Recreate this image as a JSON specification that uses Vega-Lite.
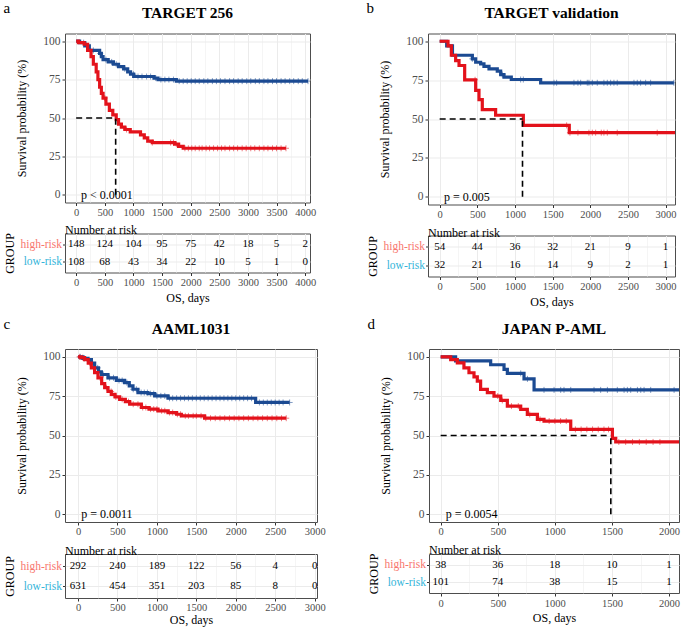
{
"$schema": "https://vega.github.io/schema/vega-lite/v6.json",
"background": "white",
"padding": {"left": 3, "top": 0.5, "right": 5, "bottom": 3},
"config": {
  "font": "Liberation Serif",
  "view": {"stroke": "#4D4D4D", "strokeWidth": 1},
  "axis": {"domain": false, "labelFont": "Liberation Serif", "titleFont": "Liberation Serif", "labelColor": "#4D4D4D", "tickColor": "#333333", "tickSize": 3, "gridColor": "#EBEBEB", "titleFontWeight": "normal", "titleColor": "black", "titleFontSize": 12, "labelFontSize": 11, "labelOverlap": false},
  "title": {"font": "Liberation Serif", "color": "black"},
  "text": {"font": "Liberation Serif"}
},
"datasets": {
  "km": [
    {"p":"a","g":"low-risk","t":0,"s":100},{"p":"a","g":"low-risk","t":60,"s":99},{"p":"a","g":"low-risk","t":150,"s":97},{"p":"a","g":"low-risk","t":230,"s":94},{"p":"a","g":"low-risk","t":410,"s":92},{"p":"a","g":"low-risk","t":440,"s":90},{"p":"a","g":"low-risk","t":470,"s":88},{"p":"a","g":"low-risk","t":560,"s":86.5},{"p":"a","g":"low-risk","t":650,"s":85},{"p":"a","g":"low-risk","t":740,"s":83.5},{"p":"a","g":"low-risk","t":830,"s":82},{"p":"a","g":"low-risk","t":900,"s":80},{"p":"a","g":"low-risk","t":950,"s":78.5},{"p":"a","g":"low-risk","t":1005,"s":77},{"p":"a","g":"low-risk","t":1360,"s":76},{"p":"a","g":"low-risk","t":1430,"s":75},{"p":"a","g":"low-risk","t":1750,"s":74},{"p":"a","g":"low-risk","t":4050,"s":74},
    {"p":"a","g":"high-risk","t":0,"s":100},{"p":"a","g":"high-risk","t":40,"s":99},{"p":"a","g":"high-risk","t":140,"s":98},{"p":"a","g":"high-risk","t":200,"s":94},{"p":"a","g":"high-risk","t":260,"s":90},{"p":"a","g":"high-risk","t":300,"s":85},{"p":"a","g":"high-risk","t":350,"s":80},{"p":"a","g":"high-risk","t":380,"s":75},{"p":"a","g":"high-risk","t":410,"s":70},{"p":"a","g":"high-risk","t":440,"s":66},{"p":"a","g":"high-risk","t":470,"s":63},{"p":"a","g":"high-risk","t":520,"s":59},{"p":"a","g":"high-risk","t":580,"s":55},{"p":"a","g":"high-risk","t":640,"s":52},{"p":"a","g":"high-risk","t":700,"s":49},{"p":"a","g":"high-risk","t":740,"s":46},{"p":"a","g":"high-risk","t":790,"s":44},{"p":"a","g":"high-risk","t":850,"s":42.5},{"p":"a","g":"high-risk","t":945,"s":41},{"p":"a","g":"high-risk","t":1124,"s":39},{"p":"a","g":"high-risk","t":1190,"s":37},{"p":"a","g":"high-risk","t":1250,"s":35},{"p":"a","g":"high-risk","t":1330,"s":34},{"p":"a","g":"high-risk","t":1720,"s":33},{"p":"a","g":"high-risk","t":1790,"s":31.5},{"p":"a","g":"high-risk","t":1870,"s":30.3},{"p":"a","g":"high-risk","t":3665,"s":30.3},
    {"p":"b","g":"low-risk","t":0,"s":100},{"p":"b","g":"low-risk","t":93,"s":97},{"p":"b","g":"low-risk","t":170,"s":91},{"p":"b","g":"low-risk","t":434,"s":88.7},{"p":"b","g":"low-risk","t":478,"s":86.5},{"p":"b","g":"low-risk","t":544,"s":85.5},{"p":"b","g":"low-risk","t":588,"s":83.8},{"p":"b","g":"low-risk","t":655,"s":82.3},{"p":"b","g":"low-risk","t":765,"s":80.8},{"p":"b","g":"low-risk","t":810,"s":78.6},{"p":"b","g":"low-risk","t":854,"s":76.9},{"p":"b","g":"low-risk","t":951,"s":75.4},{"p":"b","g":"low-risk","t":1341,"s":73.3},{"p":"b","g":"low-risk","t":3110,"s":73.3},
    {"p":"b","g":"high-risk","t":0,"s":100},{"p":"b","g":"high-risk","t":111,"s":97},{"p":"b","g":"high-risk","t":155,"s":91},{"p":"b","g":"high-risk","t":212,"s":87.6},{"p":"b","g":"high-risk","t":257,"s":84.4},{"p":"b","g":"high-risk","t":332,"s":75.2},{"p":"b","g":"high-risk","t":478,"s":68.4},{"p":"b","g":"high-risk","t":522,"s":62.4},{"p":"b","g":"high-risk","t":566,"s":56},{"p":"b","g":"high-risk","t":743,"s":52.4},{"p":"b","g":"high-risk","t":1111,"s":45.9},{"p":"b","g":"high-risk","t":1721,"s":41.2},{"p":"b","g":"high-risk","t":3128,"s":41.2},
    {"p":"c","g":"low-risk","t":0,"s":100},{"p":"c","g":"low-risk","t":60,"s":99},{"p":"c","g":"low-risk","t":127,"s":98.3},{"p":"c","g":"low-risk","t":170,"s":96},{"p":"c","g":"low-risk","t":211,"s":93},{"p":"c","g":"low-risk","t":260,"s":90.5},{"p":"c","g":"low-risk","t":296,"s":88.8},{"p":"c","g":"low-risk","t":380,"s":86.7},{"p":"c","g":"low-risk","t":486,"s":85},{"p":"c","g":"low-risk","t":591,"s":83.6},{"p":"c","g":"low-risk","t":650,"s":81.5},{"p":"c","g":"low-risk","t":697,"s":79.4},{"p":"c","g":"low-risk","t":760,"s":77.3},{"p":"c","g":"low-risk","t":887,"s":76.6},{"p":"c","g":"low-risk","t":972,"s":75.2},{"p":"c","g":"low-risk","t":1141,"s":73.7},{"p":"c","g":"low-risk","t":2252,"s":71},{"p":"c","g":"low-risk","t":2683,"s":71},
    {"p":"c","g":"high-risk","t":0,"s":100},{"p":"c","g":"high-risk","t":40,"s":99.5},{"p":"c","g":"high-risk","t":84,"s":98.3},{"p":"c","g":"high-risk","t":130,"s":96},{"p":"c","g":"high-risk","t":169,"s":93},{"p":"c","g":"high-risk","t":210,"s":90},{"p":"c","g":"high-risk","t":253,"s":86.7},{"p":"c","g":"high-risk","t":300,"s":83},{"p":"c","g":"high-risk","t":338,"s":80.4},{"p":"c","g":"high-risk","t":380,"s":78},{"p":"c","g":"high-risk","t":422,"s":76.2},{"p":"c","g":"high-risk","t":470,"s":74.5},{"p":"c","g":"high-risk","t":528,"s":73},{"p":"c","g":"high-risk","t":600,"s":71.5},{"p":"c","g":"high-risk","t":655,"s":69.9},{"p":"c","g":"high-risk","t":803,"s":67.8},{"p":"c","g":"high-risk","t":900,"s":66.8},{"p":"c","g":"high-risk","t":1014,"s":65.7},{"p":"c","g":"high-risk","t":1141,"s":64.6},{"p":"c","g":"high-risk","t":1250,"s":63.5},{"p":"c","g":"high-risk","t":1310,"s":62.5},{"p":"c","g":"high-risk","t":1605,"s":61},{"p":"c","g":"high-risk","t":2640,"s":61},
    {"p":"d","g":"low-risk","t":0,"s":100},{"p":"d","g":"low-risk","t":131,"s":97.5},{"p":"d","g":"low-risk","t":438,"s":95},{"p":"d","g":"low-risk","t":555,"s":92},{"p":"d","g":"low-risk","t":584,"s":89.5},{"p":"d","g":"low-risk","t":730,"s":86},{"p":"d","g":"low-risk","t":818,"s":79},{"p":"d","g":"low-risk","t":2100,"s":79},
    {"p":"d","g":"high-risk","t":0,"s":100},{"p":"d","g":"high-risk","t":88,"s":98.3},{"p":"d","g":"high-risk","t":146,"s":96.2},{"p":"d","g":"high-risk","t":204,"s":93},{"p":"d","g":"high-risk","t":248,"s":89.9},{"p":"d","g":"high-risk","t":292,"s":87.3},{"p":"d","g":"high-risk","t":321,"s":84.6},{"p":"d","g":"high-risk","t":350,"s":79.3},{"p":"d","g":"high-risk","t":409,"s":77.2},{"p":"d","g":"high-risk","t":467,"s":75.1},{"p":"d","g":"high-risk","t":526,"s":72.3},{"p":"d","g":"high-risk","t":584,"s":68.7},{"p":"d","g":"high-risk","t":701,"s":66.6},{"p":"d","g":"high-risk","t":759,"s":63.4},{"p":"d","g":"high-risk","t":847,"s":60.3},{"p":"d","g":"high-risk","t":905,"s":59.2},{"p":"d","g":"high-risk","t":1139,"s":53.9},{"p":"d","g":"high-risk","t":1504,"s":48.2},{"p":"d","g":"high-risk","t":1533,"s":45.9},{"p":"d","g":"high-risk","t":2100,"s":45.9}
  ],
  "cens": [
    {"p":"a","g":"low-risk","t":130,"s":99},{"p":"a","g":"low-risk","t":300,"s":94},{"p":"a","g":"low-risk","t":420,"s":92},{"p":"a","g":"low-risk","t":520,"s":88},{"p":"a","g":"low-risk","t":620,"s":86.5},{"p":"a","g":"low-risk","t":700,"s":85},{"p":"a","g":"low-risk","t":850,"s":82},{"p":"a","g":"low-risk","t":1000,"s":78.5},{"p":"a","g":"low-risk","t":1080,"s":77},{"p":"a","g":"low-risk","t":1150,"s":77},{"p":"a","g":"low-risk","t":1230,"s":77},{"p":"a","g":"low-risk","t":1300,"s":77},{"p":"a","g":"low-risk","t":1390,"s":76},{"p":"a","g":"low-risk","t":1480,"s":75},{"p":"a","g":"low-risk","t":1550,"s":75},{"p":"a","g":"low-risk","t":1620,"s":75},{"p":"a","g":"low-risk","t":1700,"s":75},{"p":"a","g":"low-risk","t":1800,"s":74},{"p":"a","g":"low-risk","t":1870,"s":74},{"p":"a","g":"low-risk","t":1940,"s":74},{"p":"a","g":"low-risk","t":2010,"s":74},{"p":"a","g":"low-risk","t":2080,"s":74},{"p":"a","g":"low-risk","t":2150,"s":74},{"p":"a","g":"low-risk","t":2230,"s":74},{"p":"a","g":"low-risk","t":2300,"s":74},{"p":"a","g":"low-risk","t":2380,"s":74},{"p":"a","g":"low-risk","t":2450,"s":74},{"p":"a","g":"low-risk","t":2520,"s":74},{"p":"a","g":"low-risk","t":2600,"s":74},{"p":"a","g":"low-risk","t":2680,"s":74},{"p":"a","g":"low-risk","t":2750,"s":74},{"p":"a","g":"low-risk","t":2830,"s":74},{"p":"a","g":"low-risk","t":2900,"s":74},{"p":"a","g":"low-risk","t":2980,"s":74},{"p":"a","g":"low-risk","t":3050,"s":74},{"p":"a","g":"low-risk","t":3130,"s":74},{"p":"a","g":"low-risk","t":3200,"s":74},{"p":"a","g":"low-risk","t":3280,"s":74},{"p":"a","g":"low-risk","t":3350,"s":74},{"p":"a","g":"low-risk","t":3430,"s":74},{"p":"a","g":"low-risk","t":3500,"s":74},{"p":"a","g":"low-risk","t":3580,"s":74},{"p":"a","g":"low-risk","t":3650,"s":74},{"p":"a","g":"low-risk","t":3730,"s":74},{"p":"a","g":"low-risk","t":3800,"s":74},{"p":"a","g":"low-risk","t":3880,"s":74},{"p":"a","g":"low-risk","t":3950,"s":74},{"p":"a","g":"low-risk","t":4050,"s":74},
    {"p":"a","g":"high-risk","t":500,"s":63},{"p":"a","g":"high-risk","t":880,"s":42.5},{"p":"a","g":"high-risk","t":1330,"s":34},{"p":"a","g":"high-risk","t":1650,"s":34},{"p":"a","g":"high-risk","t":1700,"s":34},{"p":"a","g":"high-risk","t":1750,"s":33},{"p":"a","g":"high-risk","t":1900,"s":30.3},{"p":"a","g":"high-risk","t":1960,"s":30.3},{"p":"a","g":"high-risk","t":2020,"s":30.3},{"p":"a","g":"high-risk","t":2080,"s":30.3},{"p":"a","g":"high-risk","t":2150,"s":30.3},{"p":"a","g":"high-risk","t":2200,"s":30.3},{"p":"a","g":"high-risk","t":2270,"s":30.3},{"p":"a","g":"high-risk","t":2330,"s":30.3},{"p":"a","g":"high-risk","t":2400,"s":30.3},{"p":"a","g":"high-risk","t":2470,"s":30.3},{"p":"a","g":"high-risk","t":2540,"s":30.3},{"p":"a","g":"high-risk","t":2600,"s":30.3},{"p":"a","g":"high-risk","t":2680,"s":30.3},{"p":"a","g":"high-risk","t":2750,"s":30.3},{"p":"a","g":"high-risk","t":2820,"s":30.3},{"p":"a","g":"high-risk","t":2900,"s":30.3},{"p":"a","g":"high-risk","t":2970,"s":30.3},{"p":"a","g":"high-risk","t":3050,"s":30.3},{"p":"a","g":"high-risk","t":3120,"s":30.3},{"p":"a","g":"high-risk","t":3200,"s":30.3},{"p":"a","g":"high-risk","t":3280,"s":30.3},{"p":"a","g":"high-risk","t":3350,"s":30.3},{"p":"a","g":"high-risk","t":3430,"s":30.3},{"p":"a","g":"high-risk","t":3500,"s":30.3},{"p":"a","g":"high-risk","t":3580,"s":30.3},{"p":"a","g":"high-risk","t":3665,"s":30.3},
    {"p":"b","g":"low-risk","t":434,"s":88.7},{"p":"b","g":"low-risk","t":832,"s":78.6},{"p":"b","g":"low-risk","t":1075,"s":75.4},{"p":"b","g":"low-risk","t":1111,"s":75.4},{"p":"b","g":"low-risk","t":1518,"s":73.3},{"p":"b","g":"low-risk","t":1553,"s":73.3},{"p":"b","g":"low-risk","t":1783,"s":73.3},{"p":"b","g":"low-risk","t":1836,"s":73.3},{"p":"b","g":"low-risk","t":1872,"s":73.3},{"p":"b","g":"low-risk","t":1960,"s":73.3},{"p":"b","g":"low-risk","t":1982,"s":73.3},{"p":"b","g":"low-risk","t":2027,"s":73.3},{"p":"b","g":"low-risk","t":2093,"s":73.3},{"p":"b","g":"low-risk","t":2181,"s":73.3},{"p":"b","g":"low-risk","t":2226,"s":73.3},{"p":"b","g":"low-risk","t":2270,"s":73.3},{"p":"b","g":"low-risk","t":2314,"s":73.3},{"p":"b","g":"low-risk","t":2358,"s":73.3},{"p":"b","g":"low-risk","t":2580,"s":73.3},{"p":"b","g":"low-risk","t":2624,"s":73.3},{"p":"b","g":"low-risk","t":2668,"s":73.3},{"p":"b","g":"low-risk","t":2735,"s":73.3},{"p":"b","g":"low-risk","t":2801,"s":73.3},{"p":"b","g":"low-risk","t":3110,"s":73.3},
    {"p":"b","g":"high-risk","t":470,"s":75.2},{"p":"b","g":"high-risk","t":1686,"s":45.9},{"p":"b","g":"high-risk","t":1730,"s":41.2},{"p":"b","g":"high-risk","t":1836,"s":41.2},{"p":"b","g":"high-risk","t":1982,"s":41.2},{"p":"b","g":"high-risk","t":2027,"s":41.2},{"p":"b","g":"high-risk","t":2071,"s":41.2},{"p":"b","g":"high-risk","t":2146,"s":41.2},{"p":"b","g":"high-risk","t":2181,"s":41.2},{"p":"b","g":"high-risk","t":2226,"s":41.2},{"p":"b","g":"high-risk","t":2358,"s":41.2},{"p":"b","g":"high-risk","t":2889,"s":41.2},
    {"p":"c","g":"low-risk","t":30,"s":100},{"p":"c","g":"low-risk","t":80,"s":99},{"p":"c","g":"low-risk","t":250,"s":93},{"p":"c","g":"low-risk","t":320,"s":88.8},{"p":"c","g":"low-risk","t":400,"s":86.7},{"p":"c","g":"low-risk","t":450,"s":86.7},{"p":"c","g":"low-risk","t":520,"s":85},{"p":"c","g":"low-risk","t":560,"s":85},{"p":"c","g":"low-risk","t":620,"s":83.6},{"p":"c","g":"low-risk","t":700,"s":79.4},{"p":"c","g":"low-risk","t":740,"s":79.4},{"p":"c","g":"low-risk","t":800,"s":77.3},{"p":"c","g":"low-risk","t":840,"s":77.3},{"p":"c","g":"low-risk","t":880,"s":77.3},{"p":"c","g":"low-risk","t":920,"s":76.6},{"p":"c","g":"low-risk","t":960,"s":76.6},{"p":"c","g":"low-risk","t":1000,"s":75.2},{"p":"c","g":"low-risk","t":1050,"s":75.2},{"p":"c","g":"low-risk","t":1100,"s":75.2},{"p":"c","g":"low-risk","t":1160,"s":73.7},{"p":"c","g":"low-risk","t":1200,"s":73.7},{"p":"c","g":"low-risk","t":1250,"s":73.7},{"p":"c","g":"low-risk","t":1300,"s":73.7},{"p":"c","g":"low-risk","t":1350,"s":73.7},{"p":"c","g":"low-risk","t":1400,"s":73.7},{"p":"c","g":"low-risk","t":1450,"s":73.7},{"p":"c","g":"low-risk","t":1500,"s":73.7},{"p":"c","g":"low-risk","t":1550,"s":73.7},{"p":"c","g":"low-risk","t":1600,"s":73.7},{"p":"c","g":"low-risk","t":1650,"s":73.7},{"p":"c","g":"low-risk","t":1700,"s":73.7},{"p":"c","g":"low-risk","t":1750,"s":73.7},{"p":"c","g":"low-risk","t":1800,"s":73.7},{"p":"c","g":"low-risk","t":1850,"s":73.7},{"p":"c","g":"low-risk","t":1900,"s":73.7},{"p":"c","g":"low-risk","t":1950,"s":73.7},{"p":"c","g":"low-risk","t":2000,"s":73.7},{"p":"c","g":"low-risk","t":2050,"s":73.7},{"p":"c","g":"low-risk","t":2100,"s":73.7},{"p":"c","g":"low-risk","t":2150,"s":73.7},{"p":"c","g":"low-risk","t":2200,"s":73.7},{"p":"c","g":"low-risk","t":2300,"s":71},{"p":"c","g":"low-risk","t":2350,"s":71},{"p":"c","g":"low-risk","t":2400,"s":71},{"p":"c","g":"low-risk","t":2450,"s":71},{"p":"c","g":"low-risk","t":2500,"s":71},{"p":"c","g":"low-risk","t":2550,"s":71},{"p":"c","g":"low-risk","t":2600,"s":71},{"p":"c","g":"low-risk","t":2683,"s":71},
    {"p":"c","g":"high-risk","t":20,"s":100},{"p":"c","g":"high-risk","t":60,"s":99.5},{"p":"c","g":"high-risk","t":150,"s":96},{"p":"c","g":"high-risk","t":280,"s":86.7},{"p":"c","g":"high-risk","t":360,"s":80.4},{"p":"c","g":"high-risk","t":420,"s":78},{"p":"c","g":"high-risk","t":480,"s":74.5},{"p":"c","g":"high-risk","t":560,"s":73},{"p":"c","g":"high-risk","t":640,"s":71.5},{"p":"c","g":"high-risk","t":700,"s":69.9},{"p":"c","g":"high-risk","t":760,"s":69.9},{"p":"c","g":"high-risk","t":820,"s":67.8},{"p":"c","g":"high-risk","t":860,"s":67.8},{"p":"c","g":"high-risk","t":920,"s":66.8},{"p":"c","g":"high-risk","t":960,"s":66.8},{"p":"c","g":"high-risk","t":1000,"s":66.8},{"p":"c","g":"high-risk","t":1060,"s":65.7},{"p":"c","g":"high-risk","t":1100,"s":65.7},{"p":"c","g":"high-risk","t":1160,"s":64.6},{"p":"c","g":"high-risk","t":1200,"s":64.6},{"p":"c","g":"high-risk","t":1260,"s":63.5},{"p":"c","g":"high-risk","t":1300,"s":63.5},{"p":"c","g":"high-risk","t":1360,"s":62.5},{"p":"c","g":"high-risk","t":1400,"s":62.5},{"p":"c","g":"high-risk","t":1460,"s":62.5},{"p":"c","g":"high-risk","t":1500,"s":62.5},{"p":"c","g":"high-risk","t":1560,"s":62.5},{"p":"c","g":"high-risk","t":1620,"s":61},{"p":"c","g":"high-risk","t":1680,"s":61},{"p":"c","g":"high-risk","t":1740,"s":61},{"p":"c","g":"high-risk","t":1800,"s":61},{"p":"c","g":"high-risk","t":1860,"s":61},{"p":"c","g":"high-risk","t":1920,"s":61},{"p":"c","g":"high-risk","t":1980,"s":61},{"p":"c","g":"high-risk","t":2040,"s":61},{"p":"c","g":"high-risk","t":2100,"s":61},{"p":"c","g":"high-risk","t":2160,"s":61},{"p":"c","g":"high-risk","t":2220,"s":61},{"p":"c","g":"high-risk","t":2280,"s":61},{"p":"c","g":"high-risk","t":2340,"s":61},{"p":"c","g":"high-risk","t":2400,"s":61},{"p":"c","g":"high-risk","t":2460,"s":61},{"p":"c","g":"high-risk","t":2520,"s":61},{"p":"c","g":"high-risk","t":2580,"s":61},{"p":"c","g":"high-risk","t":2640,"s":61},
    {"p":"d","g":"low-risk","t":701,"s":89.5},{"p":"d","g":"low-risk","t":760,"s":86},{"p":"d","g":"low-risk","t":905,"s":79},{"p":"d","g":"low-risk","t":993,"s":79},{"p":"d","g":"low-risk","t":1051,"s":79},{"p":"d","g":"low-risk","t":1080,"s":79},{"p":"d","g":"low-risk","t":1139,"s":79},{"p":"d","g":"low-risk","t":1343,"s":79},{"p":"d","g":"low-risk","t":1401,"s":79},{"p":"d","g":"low-risk","t":1460,"s":79},{"p":"d","g":"low-risk","t":1547,"s":79},{"p":"d","g":"low-risk","t":1606,"s":79},{"p":"d","g":"low-risk","t":1635,"s":79},{"p":"d","g":"low-risk","t":1664,"s":79},{"p":"d","g":"low-risk","t":1723,"s":79},{"p":"d","g":"low-risk","t":1752,"s":79},{"p":"d","g":"low-risk","t":1781,"s":79},{"p":"d","g":"low-risk","t":1839,"s":79},{"p":"d","g":"low-risk","t":2044,"s":79},
    {"p":"d","g":"high-risk","t":500,"s":75.1},{"p":"d","g":"high-risk","t":540,"s":72.3},{"p":"d","g":"high-risk","t":620,"s":68.7},{"p":"d","g":"high-risk","t":680,"s":68.7},{"p":"d","g":"high-risk","t":780,"s":63.4},{"p":"d","g":"high-risk","t":870,"s":60.3},{"p":"d","g":"high-risk","t":950,"s":59.2},{"p":"d","g":"high-risk","t":1000,"s":59.2},{"p":"d","g":"high-risk","t":1050,"s":59.2},{"p":"d","g":"high-risk","t":1100,"s":59.2},{"p":"d","g":"high-risk","t":1180,"s":53.9},{"p":"d","g":"high-risk","t":1230,"s":53.9},{"p":"d","g":"high-risk","t":1280,"s":53.9},{"p":"d","g":"high-risk","t":1330,"s":53.9},{"p":"d","g":"high-risk","t":1380,"s":53.9},{"p":"d","g":"high-risk","t":1430,"s":53.9},{"p":"d","g":"high-risk","t":1470,"s":53.9},{"p":"d","g":"high-risk","t":1560,"s":45.9},{"p":"d","g":"high-risk","t":1620,"s":45.9},{"p":"d","g":"high-risk","t":1680,"s":45.9},{"p":"d","g":"high-risk","t":1740,"s":45.9},{"p":"d","g":"high-risk","t":1800,"s":45.9},{"p":"d","g":"high-risk","t":1860,"s":45.9},{"p":"d","g":"high-risk","t":1920,"s":45.9}
  ],
  "risk": [
    {"p":"a","g":"high-risk","t":0,"n":148},{"p":"a","g":"high-risk","t":500,"n":124},{"p":"a","g":"high-risk","t":1000,"n":104},{"p":"a","g":"high-risk","t":1500,"n":95},{"p":"a","g":"high-risk","t":2000,"n":75},{"p":"a","g":"high-risk","t":2500,"n":42},{"p":"a","g":"high-risk","t":3000,"n":18},{"p":"a","g":"high-risk","t":3500,"n":5},{"p":"a","g":"high-risk","t":4000,"n":2},
    {"p":"a","g":"low-risk","t":0,"n":108},{"p":"a","g":"low-risk","t":500,"n":68},{"p":"a","g":"low-risk","t":1000,"n":43},{"p":"a","g":"low-risk","t":1500,"n":34},{"p":"a","g":"low-risk","t":2000,"n":22},{"p":"a","g":"low-risk","t":2500,"n":10},{"p":"a","g":"low-risk","t":3000,"n":5},{"p":"a","g":"low-risk","t":3500,"n":1},{"p":"a","g":"low-risk","t":4000,"n":0},
    {"p":"b","g":"high-risk","t":0,"n":54},{"p":"b","g":"high-risk","t":500,"n":44},{"p":"b","g":"high-risk","t":1000,"n":36},{"p":"b","g":"high-risk","t":1500,"n":32},{"p":"b","g":"high-risk","t":2000,"n":21},{"p":"b","g":"high-risk","t":2500,"n":9},{"p":"b","g":"high-risk","t":3000,"n":1},
    {"p":"b","g":"low-risk","t":0,"n":32},{"p":"b","g":"low-risk","t":500,"n":21},{"p":"b","g":"low-risk","t":1000,"n":16},{"p":"b","g":"low-risk","t":1500,"n":14},{"p":"b","g":"low-risk","t":2000,"n":9},{"p":"b","g":"low-risk","t":2500,"n":2},{"p":"b","g":"low-risk","t":3000,"n":1},
    {"p":"c","g":"high-risk","t":0,"n":292},{"p":"c","g":"high-risk","t":500,"n":240},{"p":"c","g":"high-risk","t":1000,"n":189},{"p":"c","g":"high-risk","t":1500,"n":122},{"p":"c","g":"high-risk","t":2000,"n":56},{"p":"c","g":"high-risk","t":2500,"n":4},{"p":"c","g":"high-risk","t":3000,"n":0},
    {"p":"c","g":"low-risk","t":0,"n":631},{"p":"c","g":"low-risk","t":500,"n":454},{"p":"c","g":"low-risk","t":1000,"n":351},{"p":"c","g":"low-risk","t":1500,"n":203},{"p":"c","g":"low-risk","t":2000,"n":85},{"p":"c","g":"low-risk","t":2500,"n":8},{"p":"c","g":"low-risk","t":3000,"n":0},
    {"p":"d","g":"high-risk","t":0,"n":38},{"p":"d","g":"high-risk","t":500,"n":36},{"p":"d","g":"high-risk","t":1000,"n":18},{"p":"d","g":"high-risk","t":1500,"n":10},{"p":"d","g":"high-risk","t":2000,"n":1},
    {"p":"d","g":"low-risk","t":0,"n":101},{"p":"d","g":"low-risk","t":500,"n":74},{"p":"d","g":"low-risk","t":1000,"n":38},{"p":"d","g":"low-risk","t":1500,"n":15},{"p":"d","g":"low-risk","t":2000,"n":1}
  ],
  "med": [
    {"p":"a","t":690,"s":50,"t0":0,"s0":0},{"p":"b","t":1100,"s":50,"t0":0,"s0":0},{"p":"d","t":1490,"s":50,"t0":0,"s0":0}
  ],
  "pv": [
    {"p":"a","t":85,"s":0,"label":"p < 0.0001"},{"p":"b","t":57,"s":0,"label":"p = 0.005"},{"p":"c","t":40,"s":0,"label":"p = 0.0011"},{"p":"d","t":44,"s":0,"label":"p = 0.0054"}
  ]
},
"spacing": 8.5,
"vconcat": [
 {"hconcat": [
  {"title": {"text": "a", "anchor": "start", "frame": "bounds", "fontSize": 15, "fontWeight": "normal", "offset": -10.5},
   "spacing": 31, "bounds": "flush",
   "vconcat": [
    {"width": 245, "height": 169,
     "title": {"text": "TARGET 256", "fontSize": 15.5, "fontWeight": "bold", "anchor": "middle", "frame": "group", "offset": 12},
     "layer": [
      {"data": {"name": "cens"}, "transform": [{"filter": "datum.p === 'a'"}],
       "mark": {"type": "point", "shape": "M-1,0L1,0M0,-1L0,1", "filled": false, "size": 36, "strokeWidth": 1, "opacity": 0.55, "clip": true},
       "encoding": {
        "x": {"field": "t", "type": "quantitative", "scale": {"domain": [-195, 4085], "nice": false, "zero": false},
              "axis": {"title": null, "values": [0,250,500,750,1000,1250,1500,1750,2000,2250,2500,2750,3000,3250,3500,3750,4000], "format": "d", "labelExpr": "datum.value % 500 === 0 ? datum.label : ''", "tickOpacity": {"condition": {"test": "datum.value % 500 !== 0", "value": 0}, "value": 1}, "gridWidth": {"condition": {"test": "datum.value % 500 !== 0", "value": 0.5}, "value": 1}, "labelFontSize": 10.5, "labelPadding": 1.5, "labelOverlap": false, "labelFlush": false}},
        "y": {"field": "s", "type": "quantitative", "scale": {"domain": [-5, 105], "nice": false, "zero": false},
              "axis": {"title": "Survival probability (%)", "values": [0,12.5,25,37.5,50,62.5,75,87.5,100], "labelExpr": "datum.value % 25 === 0 ? datum.label : ''", "tickOpacity": {"condition": {"test": "datum.value % 25 !== 0", "value": 0}, "value": 1}, "gridWidth": {"condition": {"test": "datum.value % 25 !== 0", "value": 0.5}, "value": 1}, "labelFontSize": 11.5, "labelPadding": 2, "titlePadding": 14, "labelOverlap": false, "labelFlush": false}},
        "color": {"field": "g", "type": "nominal", "scale": {"domain": ["high-risk", "low-risk"], "range": ["#E3121B", "#1B4A92"]}, "legend": null}}},
      {"data": {"name": "km"}, "transform": [{"filter": "datum.p === 'a'"}],
       "mark": {"type": "line", "interpolate": "step-after", "strokeWidth": 3.2, "clip": true},
       "encoding": {"x": {"field": "t", "type": "quantitative", "axis": {"title": null, "values": [0,250,500,750,1000,1250,1500,1750,2000,2250,2500,2750,3000,3250,3500,3750,4000], "format": "d", "labelExpr": "datum.value % 500 === 0 ? datum.label : ''", "tickOpacity": {"condition": {"test": "datum.value % 500 !== 0", "value": 0}, "value": 1}, "gridWidth": {"condition": {"test": "datum.value % 500 !== 0", "value": 0.5}, "value": 1}, "labelFontSize": 10.5, "labelPadding": 1.5, "labelOverlap": false, "labelFlush": false}}, "y": {"field": "s", "type": "quantitative"}, "color": {"field": "g", "type": "nominal"}}},
      {"data": {"name": "med"}, "transform": [{"filter": "datum.p === 'a'"}],
       "mark": {"type": "rule", "strokeDash": [6, 4], "strokeWidth": 1.6, "color": "black"},
       "encoding": {"x": {"field": "t0", "type": "quantitative", "axis": {"title": null, "values": [0,250,500,750,1000,1250,1500,1750,2000,2250,2500,2750,3000,3250,3500,3750,4000], "format": "d", "labelExpr": "datum.value % 500 === 0 ? datum.label : ''", "tickOpacity": {"condition": {"test": "datum.value % 500 !== 0", "value": 0}, "value": 1}, "gridWidth": {"condition": {"test": "datum.value % 500 !== 0", "value": 0.5}, "value": 1}, "labelFontSize": 10.5, "labelPadding": 1.5, "labelOverlap": false, "labelFlush": false}}, "x2": {"field": "t"}, "y": {"field": "s", "type": "quantitative"}}},
      {"data": {"name": "med"}, "transform": [{"filter": "datum.p === 'a'"}],
       "mark": {"type": "rule", "strokeDash": [6, 4], "strokeWidth": 1.6, "color": "black"},
       "encoding": {"x": {"field": "t", "type": "quantitative", "axis": {"title": null, "values": [0,250,500,750,1000,1250,1500,1750,2000,2250,2500,2750,3000,3250,3500,3750,4000], "format": "d", "labelExpr": "datum.value % 500 === 0 ? datum.label : ''", "tickOpacity": {"condition": {"test": "datum.value % 500 !== 0", "value": 0}, "value": 1}, "gridWidth": {"condition": {"test": "datum.value % 500 !== 0", "value": 0.5}, "value": 1}, "labelFontSize": 10.5, "labelPadding": 1.5, "labelOverlap": false, "labelFlush": false}}, "y": {"field": "s0", "type": "quantitative"}, "y2": {"field": "s"}}},
      {"data": {"name": "pv"}, "transform": [{"filter": "datum.p === 'a'"}],
       "mark": {"type": "text", "align": "left", "baseline": "middle", "fontSize": 12, "color": "black"},
       "encoding": {"x": {"field": "t", "type": "quantitative", "axis": {"title": null, "values": [0,250,500,750,1000,1250,1500,1750,2000,2250,2500,2750,3000,3250,3500,3750,4000], "format": "d", "labelExpr": "datum.value % 500 === 0 ? datum.label : ''", "tickOpacity": {"condition": {"test": "datum.value % 500 !== 0", "value": 0}, "value": 1}, "gridWidth": {"condition": {"test": "datum.value % 500 !== 0", "value": 0.5}, "value": 1}, "labelFontSize": 10.5, "labelPadding": 1.5, "labelOverlap": false, "labelFlush": false}}, "y": {"field": "s", "type": "quantitative"}, "text": {"field": "label", "type": "nominal"}}}
     ]},
    {"width": 245, "height": 39,
     "title": {"text": "Number at risk", "anchor": "start", "frame": "group", "fontSize": 12, "fontWeight": "normal", "offset": -4},
     "data": {"name": "risk"}, "transform": [{"filter": "datum.p === 'a'"}],
     "mark": {"type": "text", "fontSize": 11, "color": "black", "baseline": "middle"},
     "encoding": {
      "x": {"field": "t", "type": "quantitative", "scale": {"domain": [-195, 4085], "nice": false, "zero": false},
            "axis": {"title": "OS, days", "titlePadding": 4, "values": [0,250,500,750,1000,1250,1500,1750,2000,2250,2500,2750,3000,3250,3500,3750,4000], "format": "d", "labelExpr": "datum.value % 500 === 0 ? datum.label : ''", "tickOpacity": {"condition": {"test": "datum.value % 500 !== 0", "value": 0}, "value": 1}, "gridWidth": {"condition": {"test": "datum.value % 500 !== 0", "value": 0.5}, "value": 1}, "labelFontSize": 10.5, "labelPadding": 2, "labelOverlap": false, "labelFlush": false}},
      "y": {"field": "g", "type": "nominal", "scale": {"type": "point", "padding": 0.6, "domain": ["high-risk", "low-risk"]},
            "axis": {"title": "GROUP", "titlePadding": 3, "labelFontSize": 11.5, "labelPadding": 1, "tickSize": 2.5, "grid": true, "labelColor": {"condition": {"test": "datum.value === 'high-risk'", "value": "#F8766D"}, "value": "#35B5DA"}}},
      "text": {"field": "n", "type": "quantitative"}}}
   ]},
  {"title": {"text": "b", "anchor": "start", "frame": "bounds", "fontSize": 15, "fontWeight": "normal", "offset": -10.5},
   "spacing": 31, "bounds": "flush",
   "vconcat": [
    {"width": 247, "height": 171,
     "title": {"text": "TARGET validation", "fontSize": 15.5, "fontWeight": "bold", "anchor": "middle", "frame": "group", "offset": 12},
     "layer": [
      {"data": {"name": "cens"}, "transform": [{"filter": "datum.p === 'b'"}],
       "mark": {"type": "point", "shape": "M-1,0L1,0M0,-1L0,1", "filled": false, "size": 36, "strokeWidth": 1, "opacity": 0.55, "clip": true},
       "encoding": {
        "x": {"field": "t", "type": "quantitative", "scale": {"domain": [-155, 3125], "nice": false, "zero": false},
              "axis": {"title": null, "values": [0,250,500,750,1000,1250,1500,1750,2000,2250,2500,2750,3000], "format": "d", "labelOpacity": {"condition": {"test": "datum.value % 500 !== 0", "value": 0}, "value": 1}, "tickOpacity": {"condition": {"test": "datum.value % 500 !== 0", "value": 0}, "value": 1}, "gridWidth": {"condition": {"test": "datum.value % 500 !== 0", "value": 0.5}, "value": 1}, "labelFontSize": 10.5, "labelPadding": 1.5, "labelOverlap": false, "labelFlush": false}},
        "y": {"field": "s", "type": "quantitative", "scale": {"domain": [-5, 105], "nice": false, "zero": false},
              "axis": {"title": "Survival probability (%)", "values": [0,12.5,25,37.5,50,62.5,75,87.5,100], "labelExpr": "datum.value % 25 === 0 ? datum.label : ''", "tickOpacity": {"condition": {"test": "datum.value % 25 !== 0", "value": 0}, "value": 1}, "gridWidth": {"condition": {"test": "datum.value % 25 !== 0", "value": 0.5}, "value": 1}, "labelFontSize": 11.5, "labelPadding": 2, "titlePadding": 14, "labelOverlap": false, "labelFlush": false}},
        "color": {"field": "g", "type": "nominal", "scale": {"domain": ["high-risk", "low-risk"], "range": ["#E3121B", "#1B4A92"]}, "legend": null}}},
      {"data": {"name": "km"}, "transform": [{"filter": "datum.p === 'b'"}],
       "mark": {"type": "line", "interpolate": "step-after", "strokeWidth": 3.2, "clip": true},
       "encoding": {"x": {"field": "t", "type": "quantitative"}, "y": {"field": "s", "type": "quantitative"}, "color": {"field": "g", "type": "nominal"}}},
      {"data": {"name": "med"}, "transform": [{"filter": "datum.p === 'b'"}],
       "mark": {"type": "rule", "strokeDash": [6, 4], "strokeWidth": 1.6, "color": "black"},
       "encoding": {"x": {"field": "t0", "type": "quantitative"}, "x2": {"field": "t"}, "y": {"field": "s", "type": "quantitative"}}},
      {"data": {"name": "med"}, "transform": [{"filter": "datum.p === 'b'"}],
       "mark": {"type": "rule", "strokeDash": [6, 4], "strokeWidth": 1.6, "color": "black"},
       "encoding": {"x": {"field": "t", "type": "quantitative"}, "y": {"field": "s0", "type": "quantitative"}, "y2": {"field": "s"}}},
      {"data": {"name": "pv"}, "transform": [{"filter": "datum.p === 'b'"}],
       "mark": {"type": "text", "align": "left", "baseline": "middle", "fontSize": 12, "color": "black"},
       "encoding": {"x": {"field": "t", "type": "quantitative"}, "y": {"field": "s", "type": "quantitative"}, "text": {"field": "label", "type": "nominal"}}}
     ]},
    {"width": 247, "height": 41,
     "title": {"text": "Number at risk", "anchor": "start", "frame": "group", "fontSize": 12, "fontWeight": "normal", "offset": -4},
     "data": {"name": "risk"}, "transform": [{"filter": "datum.p === 'b'"}],
     "mark": {"type": "text", "fontSize": 11, "color": "black", "baseline": "middle"},
     "encoding": {
      "x": {"field": "t", "type": "quantitative", "scale": {"domain": [-155, 3125], "nice": false, "zero": false},
            "axis": {"title": "OS, days", "titlePadding": 4, "values": [0,250,500,750,1000,1250,1500,1750,2000,2250,2500,2750,3000], "format": "d", "labelExpr": "datum.value % 500 === 0 ? datum.label : ''", "tickOpacity": {"condition": {"test": "datum.value % 500 !== 0", "value": 0}, "value": 1}, "gridWidth": {"condition": {"test": "datum.value % 500 !== 0", "value": 0.5}, "value": 1}, "labelFontSize": 10.5, "labelPadding": 2, "labelOverlap": false, "labelFlush": false}},
      "y": {"field": "g", "type": "nominal", "scale": {"type": "point", "padding": 0.6, "domain": ["high-risk", "low-risk"]},
            "axis": {"title": "GROUP", "titlePadding": 3, "labelFontSize": 11.5, "labelPadding": 1, "tickSize": 2.5, "grid": true, "labelColor": {"condition": {"test": "datum.value === 'high-risk'", "value": "#F8766D"}, "value": "#35B5DA"}}},
      "text": {"field": "n", "type": "quantitative"}}}
   ]}
 ], "spacing": 49},
 {"hconcat": [
  {"title": {"text": "c", "anchor": "start", "frame": "bounds", "fontSize": 15, "fontWeight": "normal", "offset": -10.5},
   "spacing": 32, "bounds": "flush",
   "vconcat": [
    {"width": 252, "height": 173,
     "title": {"text": "AAML1031", "fontSize": 15.5, "fontWeight": "bold", "anchor": "middle", "frame": "group", "offset": 12},
     "layer": [
      {"data": {"name": "cens"}, "transform": [{"filter": "datum.p === 'c'"}],
       "mark": {"type": "point", "shape": "M-1,0L1,0M0,-1L0,1", "filled": false, "size": 36, "strokeWidth": 1, "opacity": 0.55, "clip": true},
       "encoding": {
        "x": {"field": "t", "type": "quantitative", "scale": {"domain": [-165, 3030], "nice": false, "zero": false},
              "axis": {"title": null, "values": [0,250,500,750,1000,1250,1500,1750,2000,2250,2500,2750,3000], "format": "d", "labelOpacity": {"condition": {"test": "datum.value % 500 !== 0", "value": 0}, "value": 1}, "tickOpacity": {"condition": {"test": "datum.value % 500 !== 0", "value": 0}, "value": 1}, "gridWidth": {"condition": {"test": "datum.value % 500 !== 0", "value": 0.5}, "value": 1}, "labelFontSize": 10.5, "labelPadding": 1.5, "labelOverlap": false, "labelFlush": false}},
        "y": {"field": "s", "type": "quantitative", "scale": {"domain": [-5, 105], "nice": false, "zero": false},
              "axis": {"title": "Survival probability (%)", "values": [0,12.5,25,37.5,50,62.5,75,87.5,100], "labelExpr": "datum.value % 25 === 0 ? datum.label : ''", "tickOpacity": {"condition": {"test": "datum.value % 25 !== 0", "value": 0}, "value": 1}, "gridWidth": {"condition": {"test": "datum.value % 25 !== 0", "value": 0.5}, "value": 1}, "labelFontSize": 11.5, "labelPadding": 2, "titlePadding": 14, "labelOverlap": false, "labelFlush": false}},
        "color": {"field": "g", "type": "nominal", "scale": {"domain": ["high-risk", "low-risk"], "range": ["#E3121B", "#1B4A92"]}, "legend": null}}},
      {"data": {"name": "km"}, "transform": [{"filter": "datum.p === 'c'"}],
       "mark": {"type": "line", "interpolate": "step-after", "strokeWidth": 3.2, "clip": true},
       "encoding": {"x": {"field": "t", "type": "quantitative"}, "y": {"field": "s", "type": "quantitative"}, "color": {"field": "g", "type": "nominal"}}},
      {"data": {"name": "pv"}, "transform": [{"filter": "datum.p === 'c'"}],
       "mark": {"type": "text", "align": "left", "baseline": "middle", "fontSize": 12, "color": "black"},
       "encoding": {"x": {"field": "t", "type": "quantitative"}, "y": {"field": "s", "type": "quantitative"}, "text": {"field": "label", "type": "nominal"}}}
     ]},
    {"width": 252, "height": 44,
     "title": {"text": "Number at risk", "anchor": "start", "frame": "group", "fontSize": 12, "fontWeight": "normal", "offset": -4},
     "data": {"name": "risk"}, "transform": [{"filter": "datum.p === 'c'"}],
     "mark": {"type": "text", "fontSize": 11, "color": "black", "baseline": "middle"},
     "encoding": {
      "x": {"field": "t", "type": "quantitative", "scale": {"domain": [-165, 3030], "nice": false, "zero": false},
            "axis": {"title": "OS, days", "titlePadding": 2, "values": [0,250,500,750,1000,1250,1500,1750,2000,2250,2500,2750,3000], "format": "d", "labelExpr": "datum.value % 500 === 0 ? datum.label : ''", "tickOpacity": {"condition": {"test": "datum.value % 500 !== 0", "value": 0}, "value": 1}, "gridWidth": {"condition": {"test": "datum.value % 500 !== 0", "value": 0.5}, "value": 1}, "labelFontSize": 10.5, "labelPadding": 1, "labelOverlap": false, "labelFlush": false}},
      "y": {"field": "g", "type": "nominal", "scale": {"type": "point", "padding": 0.6, "domain": ["high-risk", "low-risk"]},
            "axis": {"title": "GROUP", "titlePadding": 3, "labelFontSize": 11.5, "labelPadding": 1, "tickSize": 2.5, "grid": true, "labelColor": {"condition": {"test": "datum.value === 'high-risk'", "value": "#F8766D"}, "value": "#35B5DA"}}},
      "text": {"field": "n", "type": "quantitative"}}}
   ]},
  {"title": {"text": "d", "anchor": "start", "frame": "bounds", "fontSize": 15, "fontWeight": "normal", "offset": -10.5},
   "spacing": 32, "bounds": "flush",
   "vconcat": [
    {"width": 250, "height": 173,
     "title": {"text": "JAPAN P-AML", "fontSize": 15.5, "fontWeight": "bold", "anchor": "middle", "frame": "group", "offset": 12},
     "layer": [
      {"data": {"name": "cens"}, "transform": [{"filter": "datum.p === 'd'"}],
       "mark": {"type": "point", "shape": "M-1,0L1,0M0,-1L0,1", "filled": false, "size": 36, "strokeWidth": 1, "opacity": 0.55, "clip": true},
       "encoding": {
        "x": {"field": "t", "type": "quantitative", "scale": {"domain": [-102, 2087], "nice": false, "zero": false},
              "axis": {"title": null, "values": [0,250,500,750,1000,1250,1500,1750,2000], "format": "d", "labelOpacity": {"condition": {"test": "datum.value % 500 !== 0", "value": 0}, "value": 1}, "tickOpacity": {"condition": {"test": "datum.value % 500 !== 0", "value": 0}, "value": 1}, "gridWidth": {"condition": {"test": "datum.value % 500 !== 0", "value": 0.5}, "value": 1}, "labelFontSize": 10.5, "labelPadding": 1.5, "labelOverlap": false, "labelFlush": false}},
        "y": {"field": "s", "type": "quantitative", "scale": {"domain": [-5, 105], "nice": false, "zero": false},
              "axis": {"title": "Survival probability (%)", "values": [0,12.5,25,37.5,50,62.5,75,87.5,100], "labelExpr": "datum.value % 25 === 0 ? datum.label : ''", "tickOpacity": {"condition": {"test": "datum.value % 25 !== 0", "value": 0}, "value": 1}, "gridWidth": {"condition": {"test": "datum.value % 25 !== 0", "value": 0.5}, "value": 1}, "labelFontSize": 11.5, "labelPadding": 2, "titlePadding": 14, "labelOverlap": false, "labelFlush": false}},
        "color": {"field": "g", "type": "nominal", "scale": {"domain": ["high-risk", "low-risk"], "range": ["#E3121B", "#1B4A92"]}, "legend": null}}},
      {"data": {"name": "km"}, "transform": [{"filter": "datum.p === 'd'"}],
       "mark": {"type": "line", "interpolate": "step-after", "strokeWidth": 3.2, "clip": true},
       "encoding": {"x": {"field": "t", "type": "quantitative"}, "y": {"field": "s", "type": "quantitative"}, "color": {"field": "g", "type": "nominal"}}},
      {"data": {"name": "med"}, "transform": [{"filter": "datum.p === 'd'"}],
       "mark": {"type": "rule", "strokeDash": [6, 4], "strokeWidth": 1.6, "color": "black"},
       "encoding": {"x": {"field": "t0", "type": "quantitative"}, "x2": {"field": "t"}, "y": {"field": "s", "type": "quantitative"}}},
      {"data": {"name": "med"}, "transform": [{"filter": "datum.p === 'd'"}],
       "mark": {"type": "rule", "strokeDash": [6, 4], "strokeWidth": 1.6, "color": "black"},
       "encoding": {"x": {"field": "t", "type": "quantitative"}, "y": {"field": "s0", "type": "quantitative"}, "y2": {"field": "s"}}},
      {"data": {"name": "pv"}, "transform": [{"filter": "datum.p === 'd'"}],
       "mark": {"type": "text", "align": "left", "baseline": "middle", "fontSize": 12, "color": "black"},
       "encoding": {"x": {"field": "t", "type": "quantitative"}, "y": {"field": "s", "type": "quantitative"}, "text": {"field": "label", "type": "nominal"}}}
     ]},
    {"width": 250, "height": 39,
     "title": {"text": "Number at risk", "anchor": "start", "frame": "group", "fontSize": 12, "fontWeight": "normal", "offset": -4},
     "data": {"name": "risk"}, "transform": [{"filter": "datum.p === 'd'"}],
     "mark": {"type": "text", "fontSize": 11, "color": "black", "baseline": "middle"},
     "encoding": {
      "x": {"field": "t", "type": "quantitative", "scale": {"domain": [-102, 2087], "nice": false, "zero": false},
            "axis": {"title": "OS, days", "titlePadding": 4, "values": [0,250,500,750,1000,1250,1500,1750,2000], "format": "d", "labelExpr": "datum.value % 500 === 0 ? datum.label : ''", "tickOpacity": {"condition": {"test": "datum.value % 500 !== 0", "value": 0}, "value": 1}, "gridWidth": {"condition": {"test": "datum.value % 500 !== 0", "value": 0.5}, "value": 1}, "labelFontSize": 10.5, "labelPadding": 2, "labelOverlap": false, "labelFlush": false}},
      "y": {"field": "g", "type": "nominal", "scale": {"type": "point", "padding": 0.6, "domain": ["high-risk", "low-risk"]},
            "axis": {"title": "GROUP", "titlePadding": 3, "labelFontSize": 11.5, "labelPadding": 1, "tickSize": 2.5, "grid": true, "labelColor": {"condition": {"test": "datum.value === 'high-risk'", "value": "#F8766D"}, "value": "#35B5DA"}}},
      "text": {"field": "n", "type": "quantitative"}}}
   ]}
 ], "spacing": 41}
]
}
